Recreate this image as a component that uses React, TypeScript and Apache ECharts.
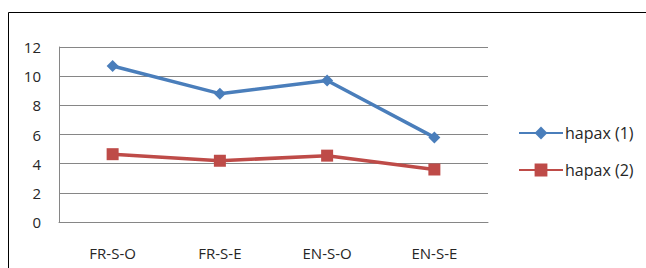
import React, { useEffect, useRef } from "react";
import * as echarts from "echarts";

const categories = ["FR-S-O", "FR-S-E", "EN-S-O", "EN-S-E"];
const hapax1 = [10.7, 8.8, 9.7, 5.8];
const hapax2 = [4.65, 4.2, 4.55, 3.6];
const seriesNames = ["hapax (1)", "hapax (2)"];

export default function App() {
  const ref = useRef<HTMLDivElement>(null);
  useEffect(() => {
    const chart = echarts.init(ref.current!, null, { renderer: "svg" });
    const font = "'Open Sans', 'Liberation Sans', sans-serif";
    chart.setOption({
      animation: false,
      backgroundColor: "#ffffff",
      graphic: [
        {
          type: "rect",
          shape: { x: 8.5, y: 12.5, width: 700, height: 400 },
          style: { fill: "none", stroke: "#000000", lineWidth: 1 },
          silent: true,
        },
      ],
      grid: { left: 59, top: 47, width: 429, height: 175 },
      legend: {
        orient: "vertical",
        left: 518,
        top: 125,
        padding: 0,
        itemWidth: 44,
        itemHeight: 16,
        itemGap: 21,
        data: seriesNames,
        textStyle: {
          fontFamily: font,
          fontSize: 16,
          lineHeight: 16,
          color: "#262626",
          padding: [0, 0, 0, -3],
        },
      },
      xAxis: {
        type: "category",
        data: categories,
        boundaryGap: true,
        axisLine: { lineStyle: { color: "#868686", width: 1 } },
        axisTick: { show: false },
        axisLabel: {
          fontFamily: font,
          fontSize: 15,
          lineHeight: 16,
          color: "#262626",
          margin: 23,
        },
      },
      yAxis: {
        type: "value",
        min: 0,
        max: 12,
        interval: 2,
        axisLine: { show: true, lineStyle: { color: "#868686", width: 1 } },
        axisTick: { show: false },
        splitLine: { lineStyle: { color: "#868686", width: 1 } },
        axisLabel: {
          fontFamily: font,
          fontSize: 15,
          color: "#262626",
          margin: 18,
          padding: [4, 0, 0, 0],
        },
      },
      series: [
        {
          name: seriesNames[0],
          type: "line",
          data: hapax1,
          symbol: "diamond",
          symbolSize: 12,
          lineStyle: { color: "#4A7EBB", width: 3.5 },
          itemStyle: { color: "#4A7EBB" },
        },
        {
          name: seriesNames[1],
          type: "line",
          data: hapax2,
          symbol: "rect",
          symbolSize: 12,
          lineStyle: { color: "#BE4B48", width: 3.5 },
          itemStyle: { color: "#BE4B48" },
        },
      ],
    });
    return () => chart.dispose();
  }, []);
  return (
    <div
      ref={ref}
      style={{ position: "fixed", left: 0, top: 0, width: 646, height: 268 }}
    />
  );
}
